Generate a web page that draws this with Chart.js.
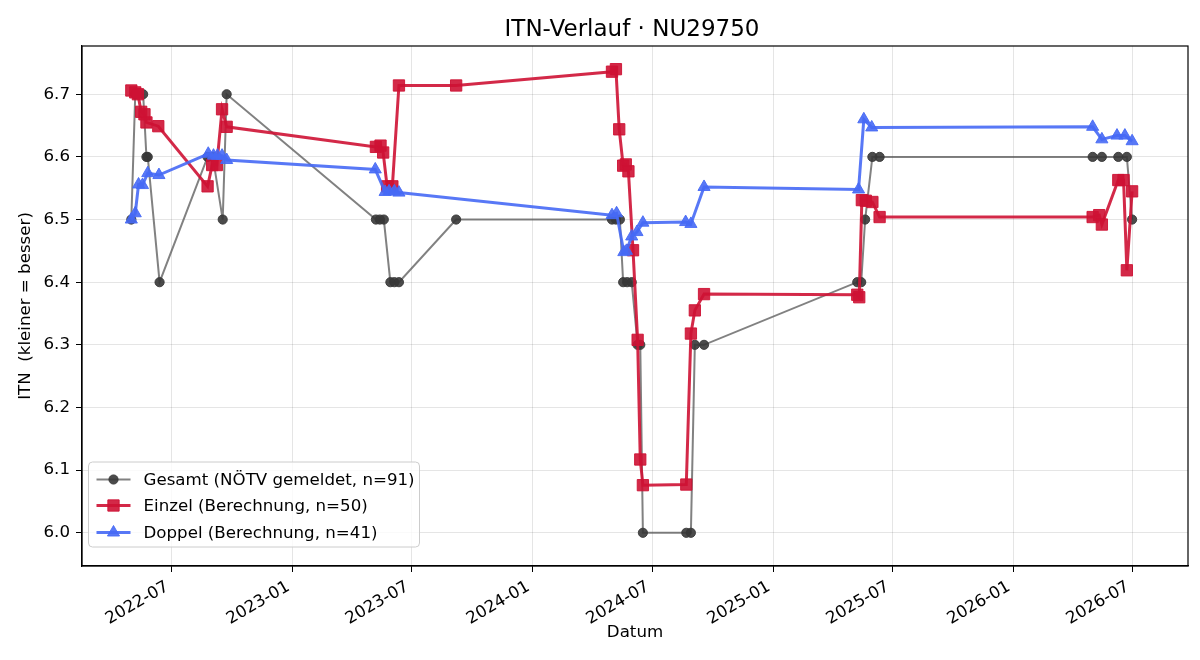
<!DOCTYPE html>
<html><head><meta charset="utf-8">
<script src="https://cdn.jsdelivr.net/npm/chart.js@4.4.0/dist/chart.umd.min.js"></script>
<style>html,body{margin:0;padding:0;background:#fff;}canvas{display:block;}</style>
</head><body>
<canvas id="c" width="1200" height="660"></canvas>
<script>
const titleText = 'ITN-Verlauf · NU29750';
const xAxisTitle = 'Datum';
const yAxisTitle = 'ITN  (kleiner = besser)';
const seriesLabels = ['Gesamt (NÖTV gemeldet, n=91)', 'Einzel (Berechnung, n=50)', 'Doppel (Berechnung, n=41)'];

const gesamtDates = ['2022-05-01','2022-05-07','2022-05-19','2022-05-24','2022-05-26','2022-06-13','2022-08-25','2022-09-02','2022-09-17','2022-09-23',
  '2023-05-08','2023-05-14','2023-05-20','2023-05-30','2023-06-05','2023-06-12','2023-09-07',
  '2024-05-01','2024-05-07','2024-05-13','2024-05-18','2024-05-24','2024-05-31','2024-06-09','2024-06-13','2024-06-17',
  '2024-08-22','2024-08-29','2024-09-04','2024-09-18',
  '2025-05-09','2025-05-15','2025-05-21','2025-06-01','2025-06-12',
  '2026-05-02','2026-05-16','2026-06-10','2026-06-23','2026-07-01'];
const gesamtValues = [6.5,6.7,6.7,6.6,6.6,6.4,6.6,6.6,6.5,6.7,
  6.5,6.5,6.5,6.4,6.4,6.4,6.5,
  6.5,6.5,6.5,6.4,6.4,6.4,6.3,6.3,6.0,
  6.0,6.0,6.3,6.3,
  6.4,6.4,6.5,6.6,6.6,
  6.6,6.6,6.6,6.6,6.5];

const einzelDates = ['2022-05-01','2022-05-07','2022-05-11','2022-05-16','2022-05-21','2022-05-24','2022-06-11','2022-08-25','2022-09-01','2022-09-08','2022-09-16','2022-09-23',
  '2023-05-08','2023-05-15','2023-05-19','2023-05-25','2023-06-02','2023-06-12','2023-09-07',
  '2024-05-01','2024-05-07','2024-05-12','2024-05-18','2024-05-22','2024-05-26','2024-06-02','2024-06-09','2024-06-13','2024-06-17',
  '2024-08-22','2024-08-29','2024-09-04','2024-09-18',
  '2025-05-09','2025-05-12','2025-05-16','2025-05-22','2025-06-01','2025-06-12',
  '2026-05-02','2026-05-12','2026-05-16','2026-06-10','2026-06-18','2026-06-23','2026-07-01'];
const einzelValues = [6.706,6.703,6.700,6.672,6.668,6.655,6.649,6.553,6.587,6.587,6.676,6.648,
  6.616,6.618,6.607,6.553,6.553,6.714,6.714,
  6.736,6.740,6.644,6.586,6.588,6.577,6.451,6.308,6.117,6.076,
  6.077,6.318,6.355,6.381,
  6.380,6.376,6.531,6.530,6.528,6.504,
  6.504,6.507,6.492,6.563,6.563,6.419,6.545];

const doppelDates = ['2022-05-01','2022-05-07','2022-05-12','2022-05-18','2022-05-26','2022-06-12','2022-08-26','2022-09-03','2022-09-09','2022-09-16','2022-09-23',
  '2023-05-07','2023-05-22','2023-05-28','2023-06-05','2023-06-12',
  '2024-05-01','2024-05-08','2024-05-19','2024-05-23','2024-05-31','2024-06-08','2024-06-17',
  '2024-08-21','2024-08-29','2024-09-18',
  '2025-05-11','2025-05-19','2025-05-31',
  '2026-05-02','2026-05-16','2026-06-08','2026-06-20','2026-07-01'];
const doppelValues = [6.500,6.510,6.556,6.555,6.574,6.571,6.605,6.602,6.602,6.602,6.595,
  6.580,6.544,6.545,6.545,6.543,
  6.507,6.510,6.448,6.450,6.473,6.480,6.495,
  6.496,6.493,6.552,
  6.548,6.660,6.647,
  6.648,6.628,6.634,6.634,6.625];

const xTickDates = ['2022-07-01','2023-01-01','2023-07-01','2024-01-01','2024-07-01','2025-01-01','2025-07-01','2026-01-01','2026-07-01'];
const xTickLabels = ['2022-07','2023-01','2023-07','2024-01','2024-07','2025-01','2025-07','2026-01','2026-07'];
const yTickValues = [6.0,6.1,6.2,6.3,6.4,6.5,6.6,6.7];
const xRange = ['2022-02-15','2026-09-24'];
const yRange = [5.947, 6.777];

const toMs = s => { const [y,m,d] = s.split('-').map(Number); return Date.UTC(y, m-1, d); };
const pts = (ds, vs) => ds.map((d,i) => ({x: toMs(d), y: vs[i]}));

const FONT = "'DejaVu Sans', sans-serif";
Chart.defaults.font.family = FONT;
Chart.defaults.font.size = 16.67;
Chart.defaults.color = '#000';

const GRAY_LINE = 'rgba(80,80,80,0.72)', GRAY_PT = 'rgba(55,55,55,0.9)';
const RED = 'rgba(206,18,52,0.9)';
const BLUE = 'rgba(70,105,245,0.9)';

const framePlugin = {
  id: 'frame',
  afterDraw(chart) {
    const ctx = chart.ctx, a = chart.chartArea;
    ctx.save();
    ctx.strokeStyle = '#000'; ctx.lineWidth = 1.2;
    ctx.strokeRect(a.left, a.top, a.right - a.left, a.bottom - a.top);
    // title
    ctx.fillStyle = '#000';
    ctx.font = "23px " + FONT;
    ctx.textAlign = 'center'; ctx.textBaseline = 'alphabetic';
    ctx.fillText(titleText, (a.left + a.right) / 2 - 3, 36);
    // legend
    const lx = a.left + 6.5, lh = 85, ly = a.bottom - 19 - lh, lw = 331;
    ctx.beginPath();
    ctx.roundRect(lx, ly, lw, lh, 4);
    ctx.fillStyle = 'rgba(255,255,255,0.8)'; ctx.fill();
    ctx.strokeStyle = '#cccccc'; ctx.lineWidth = 1; ctx.stroke();
    const rows = [ly + 17.5, ly + 43.5, ly + 70.5];
    chart.data.datasets.forEach((ds, i) => {
      const y = rows[i];
      ctx.beginPath();
      ctx.strokeStyle = ds.borderColor; ctx.lineWidth = ds.borderWidth;
      ctx.moveTo(lx + 8, y); ctx.lineTo(lx + 42, y); ctx.stroke();
      ctx.fillStyle = ds.pointBackgroundColor; ctx.strokeStyle = ds.pointBorderColor; ctx.lineWidth = 1;
      Chart.helpers.drawPoint(ctx, {pointStyle: ds.pointStyle, radius: ds.pointRadius, rotation: 0, borderWidth: 1}, lx + 25, y);
      ctx.fillStyle = '#000'; ctx.font = "16.67px " + FONT;
      ctx.textAlign = 'left'; ctx.textBaseline = 'middle';
      ctx.fillText(ds.label, lx + 55, y + 1);
    });
    ctx.restore();
  }
};

new Chart(document.getElementById('c'), {
  type: 'line',
  data: {
    datasets: [
      {label: seriesLabels[0], data: pts(gesamtDates, gesamtValues), borderColor: GRAY_LINE, borderWidth: 2,
       pointStyle: 'circle', pointRadius: 4.6, pointBackgroundColor: GRAY_PT, pointBorderColor: GRAY_PT, pointBorderWidth: 1, tension: 0, order: 3},
      {label: seriesLabels[1], data: pts(einzelDates, einzelValues), borderColor: RED, borderWidth: 3,
       pointStyle: 'rect', pointRadius: 8, pointBackgroundColor: RED, pointBorderColor: RED, pointBorderWidth: 1, tension: 0, order: 2},
      {label: seriesLabels[2], data: pts(doppelDates, doppelValues), borderColor: BLUE, borderWidth: 3,
       pointStyle: 'triangle', pointRadius: 7, pointBackgroundColor: BLUE, pointBorderColor: BLUE, pointBorderWidth: 1, tension: 0, order: 1}
    ]
  },
  options: {
    responsive: false, animation: false, devicePixelRatio: 1,
    layout: {padding: {top: 46, right: 12, left: 0, bottom: 0}},
    plugins: {legend: {display: false}, title: {display: false}, tooltip: {enabled: false}},
    scales: {
      x: {
        type: 'linear', position: 'bottom', min: toMs(xRange[0]), max: toMs(xRange[1]),
        afterBuildTicks: s => { s.ticks = xTickDates.map(d => ({value: toMs(d)})); },
        afterFit: s => { s.height = 94; },
        ticks: {autoSkip: false, minRotation: 30, maxRotation: 30, padding: 5, labelOffset: -4,
                callback: (v, i) => xTickLabels[i], font: {size: 16.67}},
        grid: {color: 'rgba(0,0,0,0.1)', lineWidth: 1, tickColor: '#000', tickLength: 6, drawTicks: true},
        border: {color: '#000', width: 1.2},
        title: {display: true, text: xAxisTitle, padding: {top: 0, bottom: 17}, font: {size: 16.67}}
      },
      y: {
        type: 'linear', position: 'left', min: yRange[0], max: yRange[1],
        afterBuildTicks: s => { s.ticks = yTickValues.map(v => ({value: v})); },
        afterFit: s => { s.width = 82; },
        ticks: {padding: 6, callback: v => Number(v).toFixed(1), font: {size: 16.67}},
        grid: {color: 'rgba(0,0,0,0.1)', lineWidth: 1, tickColor: '#000', tickLength: 6, drawTicks: true},
        border: {color: '#000', width: 1.2},
        title: {display: true, text: yAxisTitle, padding: {top: 15.5, bottom: 0}, font: {size: 16.67}}
      }
    }
  },
  plugins: [framePlugin]
});
</script>
</body></html>
